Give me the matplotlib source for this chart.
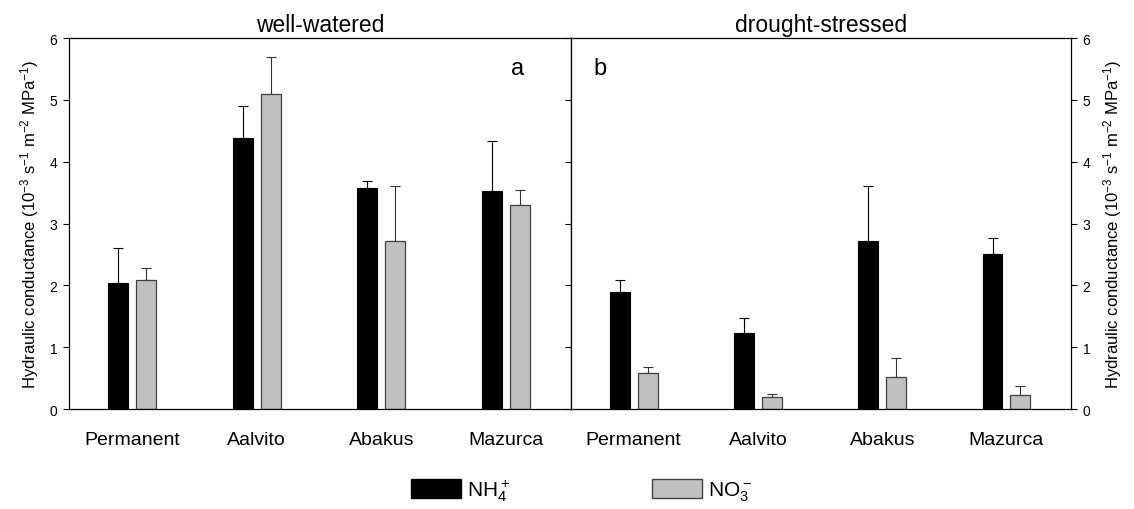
import numpy as np
import matplotlib.pyplot as plt
from matplotlib.patches import Patch

plt.rcParams['font.family'] = ['Liberation Sans', 'DejaVu Sans']
plt.rcParams['mathtext.default'] = 'regular'

cultivars = ['Permanent', 'Aalvito', 'Abakus', 'Mazurca']

# well-watered
ww_nh4 = [2.04, 4.39, 3.57, 3.52]
ww_nh4_err = [0.57, 0.51, 0.11, 0.81]
ww_no3 = [2.08, 5.10, 2.71, 3.30]
ww_no3_err = [0.20, 0.60, 0.89, 0.25]

# drought-stressed
ds_nh4 = [1.90, 1.23, 2.72, 2.51]
ds_nh4_err = [0.18, 0.24, 0.88, 0.26]
ds_no3 = [0.59, 0.19, 0.52, 0.23]
ds_no3_err = [0.09, 0.05, 0.30, 0.14]

ylabel = 'Hydraulic conductance (10$^{-3}$ s$^{-1}$ m$^{-2}$ MPa$^{-1}$)'

fig = plt.figure(figsize=(11.34, 5.10), dpi=100)
ax1 = fig.add_axes([0.0608, 0.196, 0.4427, 0.7275])
ax2 = fig.add_axes([0.5035, 0.196, 0.4410, 0.7275])

x = np.arange(len(cultivars))
w = 0.16
off = 0.112
grey = '#c0c0c0'


def draw_panel(ax, nh4, nh4_err, no3, no3_err):
    ax.bar(x - off, nh4, w, color='black', edgecolor='black', linewidth=0.8, zorder=2)
    ax.bar(x + off, no3, w, color=grey, edgecolor='#404040', linewidth=0.9, zorder=2)
    ax.errorbar(x - off, nh4, yerr=[np.zeros(len(nh4)), nh4_err], fmt='none',
                ecolor='black', elinewidth=0.8, capsize=3.6, capthick=0.8, zorder=1)
    ax.errorbar(x + off, no3, yerr=[np.zeros(len(no3)), no3_err], fmt='none',
                ecolor='#333333', elinewidth=0.8, capsize=3.6, capthick=0.8, zorder=1)
    ax.set_xlim(-0.505, 3.52)
    ax.set_ylim(0, 6)
    ax.set_xticks(x)
    ax.set_xticklabels(cultivars, fontsize=14)
    ax.tick_params(axis='x', length=0, pad=15.5)
    ax.set_yticks(range(7))
    for s in ax.spines.values():
        s.set_linewidth(0.9)


draw_panel(ax1, ww_nh4, ww_nh4_err, ww_no3, ww_no3_err)
draw_panel(ax2, ds_nh4, ds_nh4_err, ds_no3, ds_no3_err)

ax1.tick_params(axis='y', direction='out', length=4.3, width=0.8, labelsize=10, pad=4)
ax1.set_ylabel(ylabel, fontsize=12, labelpad=6)

ax2.tick_params(axis='y', direction='out', length=4.3, width=0.8, labelsize=10, pad=4,
                left=True, right=True, labelleft=False, labelright=True)
ax2.yaxis.set_label_position('right')
ax2.set_ylabel(ylabel, fontsize=12, labelpad=8)

ax1.set_title('well-watered', fontsize=16.5, pad=5)
ax2.set_title('drought-stressed', fontsize=16.5, pad=5)

ax1.text(0.894, 0.903, 'a', transform=ax1.transAxes, fontsize=17, ha='center')
ax2.text(0.059, 0.903, 'b', transform=ax2.transAxes, fontsize=17, ha='center')

handles = [Patch(facecolor='black', edgecolor='black'),
           Patch(facecolor=grey, edgecolor='#404040')]
fig.legend(handles, ['NH$_4^+$', 'NO$_3^-$'], ncol=2, frameon=False, fontsize=15,
           loc='center left', bbox_to_anchor=(411 / 1134, 0.037),
           handlelength=2.4, handleheight=1.0, handletextpad=0.3,
           columnspacing=6.8, borderpad=0, borderaxespad=0)

fig.savefig('out.png', dpi=100)
